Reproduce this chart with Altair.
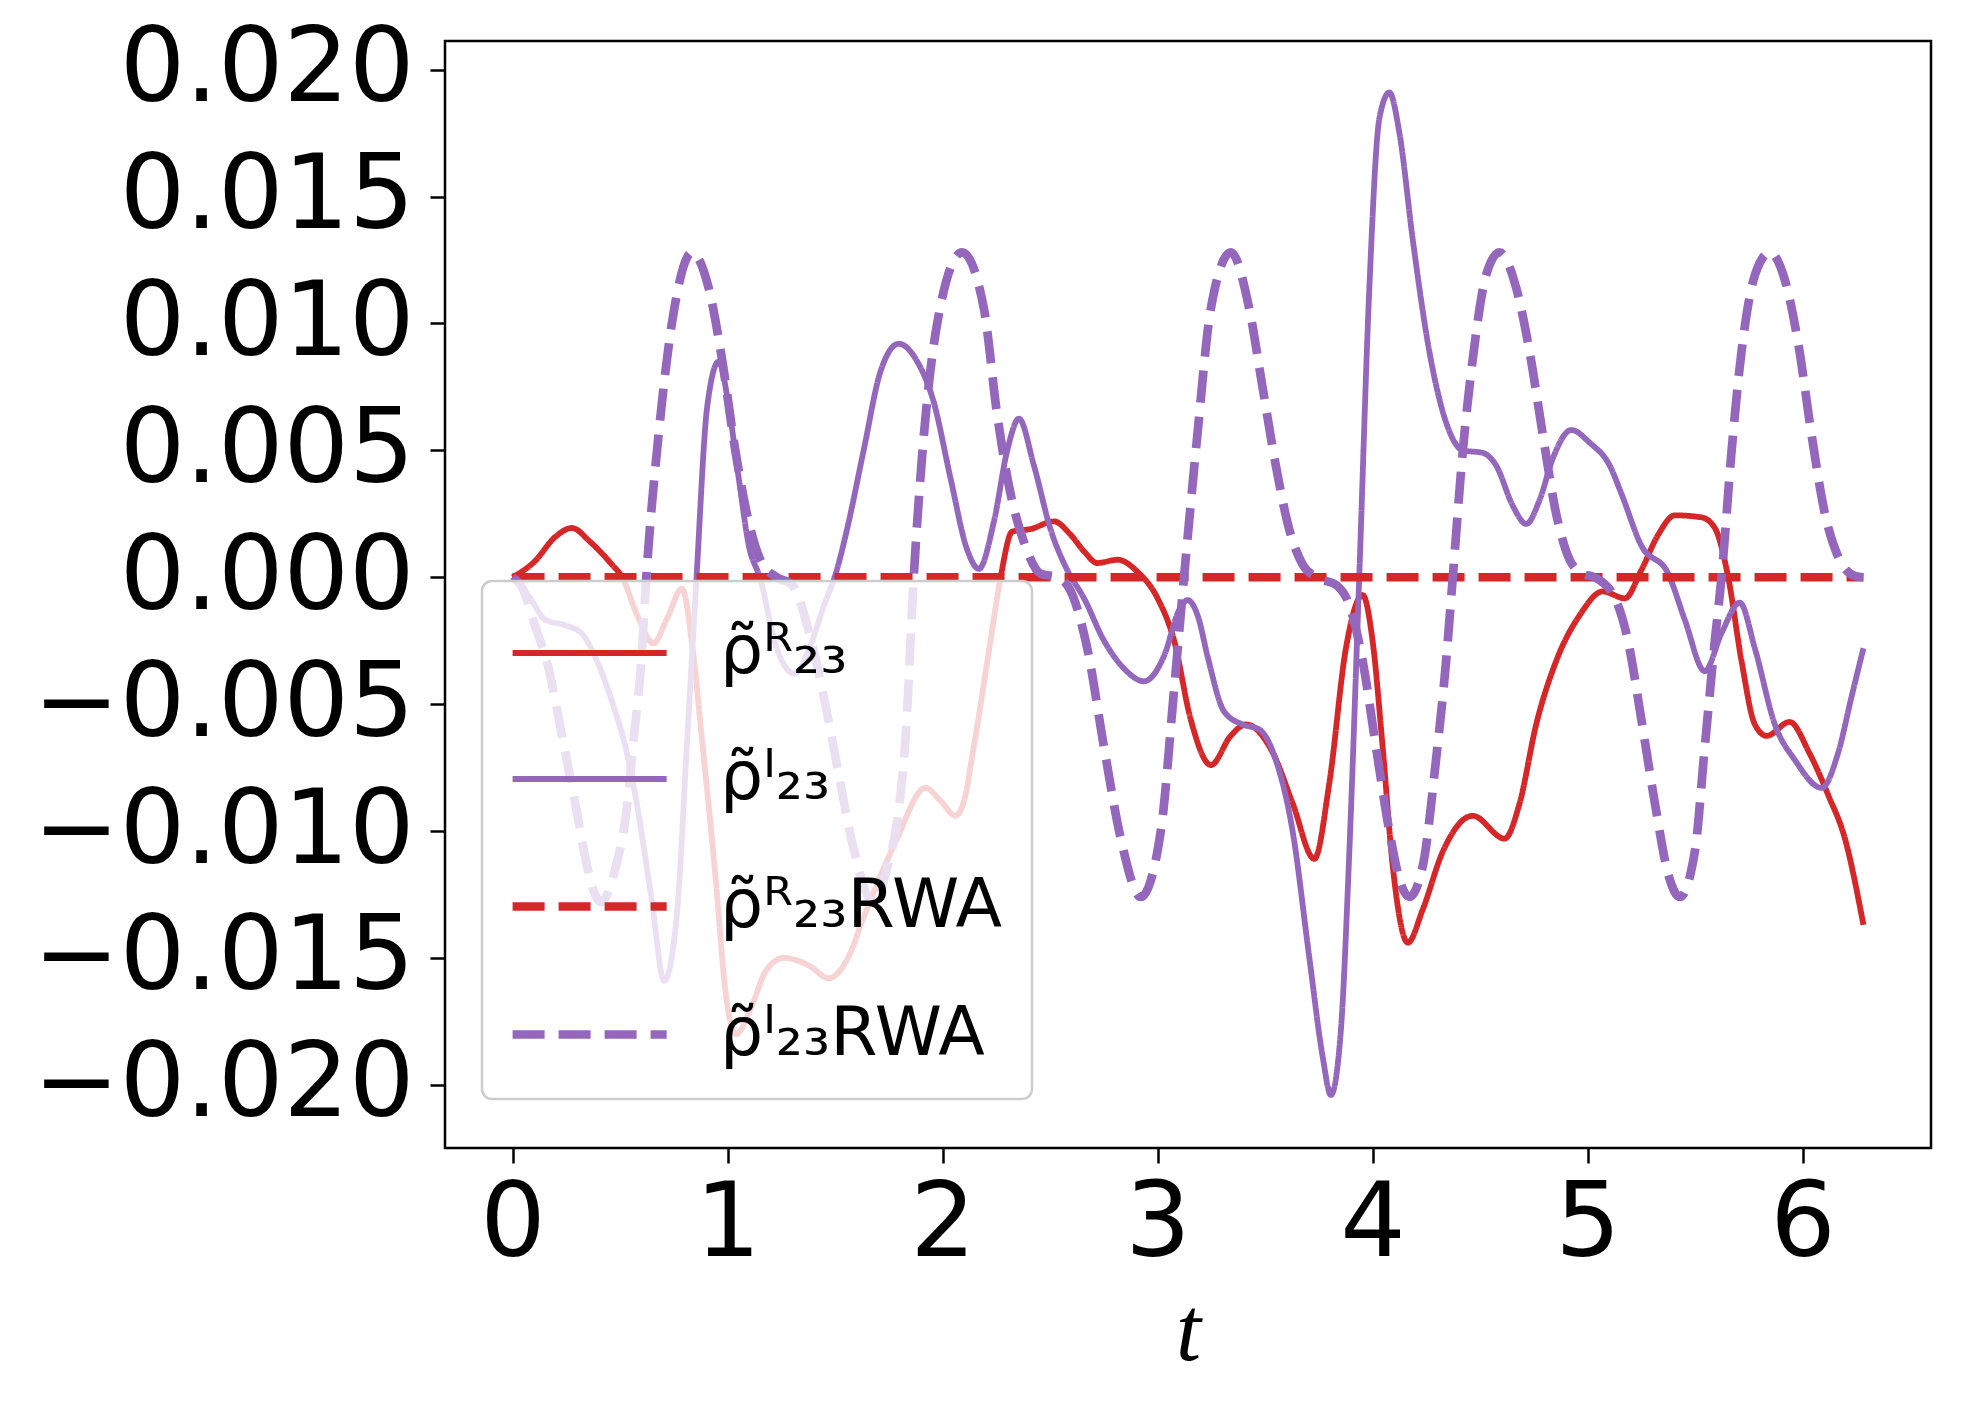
import altair as alt
import pandas as pd

# --- data (values in units of 1e-3) ---
t_re = [0.0, 0.1, 0.2, 0.276, 0.36, 0.462, 0.51, 0.58, 0.655, 0.72, 0.788, 0.84, 0.88, 0.946,
        0.99, 1.04, 1.112, 1.179, 1.262, 1.379, 1.47, 1.56, 1.633, 1.70, 1.788, 1.92, 1.99,
        2.06, 2.10, 2.145, 2.223, 2.27, 2.324, 2.41, 2.518, 2.596, 2.66, 2.72, 2.813, 2.906,
        3.0, 3.077, 3.154, 3.248, 3.34, 3.411, 3.535, 3.628, 3.729, 3.799, 3.876, 3.954, 4.0,
        4.047, 4.094, 4.164, 4.233, 4.327, 4.466, 4.614, 4.684, 4.761, 4.854, 4.963, 5.071,
        5.173, 5.25, 5.328, 5.406, 5.53, 5.592, 5.654, 5.716, 5.778, 5.833, 5.94, 6.03, 6.12,
        6.197, 6.283]
v_re = [0.0, 0.6, 1.6, 1.94, 1.4, 0.5, 0.0, -1.5, -2.6, -1.6, -0.45, -3.0, -6.3, -12.0,
        -16.3, -18.0, -16.9, -15.5, -15.0, -15.3, -15.8, -15.0, -13.4, -12.0, -10.3, -8.3, -8.8,
        -9.4, -8.8, -6.7, -2.5, 0.0, 1.8, 1.9, 2.2, 1.67, 1.0, 0.56, 0.69, 0.22,
        -0.83, -2.5, -5.6, -7.4, -6.25, -5.8, -6.9, -8.9, -11.1, -8.1, -2.8, -0.7, -2.5,
        -6.7, -11.4, -14.4, -13.1, -10.8, -9.4, -10.3, -8.9, -5.8, -3.3, -1.5, -0.56,
        -0.83, 0.28, 1.67, 2.44, 2.36, 1.94, 0.0, -3.3, -5.8, -6.25, -5.7, -6.9, -8.6,
        -10.3, -13.7]

t_im = [0.0, 0.08, 0.152, 0.248, 0.32, 0.398, 0.478, 0.514, 0.571, 0.647, 0.705, 0.763, 0.813,
        0.855, 0.905, 0.959, 1.006, 1.052, 1.10, 1.15, 1.229, 1.312, 1.38, 1.445, 1.512, 1.556,
        1.633, 1.711, 1.796, 1.882, 1.959, 2.037, 2.114, 2.169, 2.239, 2.301, 2.355, 2.425,
        2.502, 2.58, 2.658, 2.751, 2.844, 2.937, 3.03, 3.1, 3.14, 3.19, 3.232, 3.31, 3.395,
        3.473, 3.55, 3.628, 3.706, 3.768, 3.806, 3.853, 3.892, 3.938, 3.985, 4.032, 4.078,
        4.125, 4.187, 4.264, 4.342, 4.42, 4.513, 4.575, 4.653, 4.715, 4.777, 4.839, 4.924,
        5.01, 5.103, 5.157, 5.25, 5.375, 5.452, 5.545, 5.623, 5.708, 5.778, 5.871, 5.964,
        6.089, 6.166, 6.228, 6.283]
v_im = [0.0, -0.8, -1.67, -1.9, -2.2, -3.4, -5.3, -6.3, -8.6, -12.7, -15.9, -13.4, -6.3,
        -0.1, 6.7, 8.5, 6.7, 3.9, 1.2, 0.0, -2.8, -3.8, -2.8, -1.2, 0.4, 1.9,
        5.0, 8.1, 9.2, 8.5, 6.9, 3.9, 1.1, 0.33, 2.2, 5.0, 6.25, 4.4,
        1.9, 0.28, -0.83, -2.5, -3.6, -4.1, -3.1, -1.3, -0.9, -1.6, -3.1, -5.3, -5.8,
        -6.0, -7.2, -10.0, -15.0, -18.9, -20.4, -17.8, -10.8, 0.0, 11.4, 18.1, 19.1,
        17.5, 13.3, 8.9, 6.1, 5.0, 4.9, 4.4, 2.8, 2.1, 3.05, 4.7, 5.8,
        5.3, 4.4, 3.3, 1.25, 0.14, -1.67, -3.7, -2.2, -1.0, -2.8, -5.8, -7.2,
        -8.3, -6.9, -4.7, -2.8]

t_re_rwa = [0.0, 6.283]
v_re_rwa = [0.0, 0.0]

t_im_rwa = [0.0, 0.05, 0.1, 0.165, 0.231, 0.298, 0.347, 0.41, 0.48, 0.53, 0.564, 0.597, 0.622,
            0.679, 0.741, 0.835, 0.912, 0.974, 1.036, 1.098, 1.16, 1.229, 1.30, 1.38, 1.445,
            1.511, 1.578, 1.678, 1.744, 1.795, 1.828, 1.866, 1.913, 1.975, 2.091, 2.192, 2.254,
            2.316, 2.378, 2.456, 2.534, 2.596, 2.673, 2.751, 2.829, 2.922, 3.015, 3.077, 3.123,
            3.185, 3.248, 3.341, 3.426, 3.488, 3.55, 3.612, 3.675, 3.737, 3.83, 3.892, 3.954,
            4.016, 4.078, 4.132, 4.171, 4.233, 4.295, 4.342, 4.373, 4.42, 4.466, 4.528, 4.59,
            4.668, 4.73, 4.792, 4.854, 4.916, 4.978, 5.033, 5.126, 5.188, 5.25, 5.313, 5.375,
            5.429, 5.499, 5.545, 5.592, 5.623, 5.67, 5.716, 5.778, 5.848, 5.918, 5.98, 6.042,
            6.104, 6.166, 6.244, 6.283]
v_im_rwa = [0.0, -0.5, -1.8, -3.5, -6.3, -9.2, -11.4, -12.8, -11.4, -9.2, -6.3, -3.5, 0.0,
            5.6, 10.0, 12.8, 11.4, 8.6, 5.0, 2.2, 0.55, 0.0, -0.3, -2.2, -4.6,
            -7.5, -10.4, -12.8, -11.4, -9.2, -6.3, 0.0, 5.6, 10.0, 12.8, 10.6, 6.4,
            3.3, 1.4, 0.14, 0.0, -0.55, -2.8, -6.7, -10.3, -12.6, -10.0, -4.4, 0.0,
            5.6, 10.6, 12.8, 10.6, 7.5, 4.4, 1.9, 0.5, 0.0, -0.3, -1.1, -3.3,
            -6.7, -10.0, -12.1, -12.6, -11.4, -7.2, -3.3, 0.0, 5.0, 8.6, 11.9, 12.8,
            11.4, 8.9, 5.6, 2.5, 0.7, 0.14, 0.0, -0.8, -2.5, -5.6, -8.9, -11.7,
            -12.6, -10.8, -6.7, -2.5, 0.0, 5.0, 8.9, 11.9, 12.8, 11.7, 9.2, 5.6,
            2.5, 0.8, 0.05, 0.0]

names = ["ρ̃ᴿ₂₃", "ρ̃ᴵ₂₃", "ρ̃ᴿ₂₃RWA", "ρ̃ᴵ₂₃RWA"]
colors = ["#d62728", "#9467bd", "#d62728", "#9467bd"]
dashes = [[1, 0], [1, 0], [32, 14], [32, 14]]
widths = [5.8, 5.8, 8.7, 8.7]

rows = []
for name, ts, vs in zip(names, [t_re, t_im, t_re_rwa, t_im_rwa], [v_re, v_im, v_re_rwa, v_im_rwa]):
    for i, (t, v) in enumerate(zip(ts, vs)):
        rows.append({"t": t, "v": v * 1e-3, "series": name, "idx": i})
df = pd.DataFrame(rows)

legend = alt.Legend(title=None, orient="none", legendX=37, legendY=540)

chart = alt.Chart(df).mark_line(interpolate="monotone").encode(
    x=alt.X("t:Q", scale=alt.Scale(domain=[-0.3142, 6.5973], nice=False, zero=False),
            axis=alt.Axis(values=[0, 1, 2, 3, 4, 5, 6], format="d", title="t",
                          titleFont="Liberation Serif", titleFontStyle="italic",
                          titleFontWeight="normal", titleFontSize=90, titlePadding=12,
                          labelPadding=11, titleColor="black")),
    y=alt.Y("v:Q", scale=alt.Scale(domain=[-0.02249, 0.02113], nice=False, zero=False),
            axis=alt.Axis(values=[-0.02, -0.015, -0.01, -0.005, 0, 0.005, 0.01, 0.015, 0.02],
                          format=".3f", title=None, labelPadding=16)),
    color=alt.Color("series:N", scale=alt.Scale(domain=names, range=colors), legend=legend),
    strokeDash=alt.StrokeDash("series:N", scale=alt.Scale(domain=names, range=dashes), legend=legend),
    strokeWidth=alt.StrokeWidth("series:O", sort=names,
                                scale=alt.Scale(type="ordinal", domain=names, range=widths),
                                legend=legend),
    detail="series:N",
    order="idx:Q",
).properties(
    width=1486, height=1107,
    padding={"left": 437, "top": 33, "right": 22, "bottom": 252},
    autosize=alt.AutoSizeParams(type="none"),
).configure_view(
    stroke="black", strokeWidth=2.5
).configure_axis(
    domain=False, grid=False, tickColor="black", tickWidth=2.5, tickSize=15,
    labelFont="DejaVu Sans", labelFontSize=103, labelColor="black", labelLimit=1000,
).configure_legend(
    fillColor="rgba(255,255,255,0.8)", strokeColor="#cccccc", strokeWidth=2.5,
    cornerRadius=10, padding=30, labelFont="DejaVu Sans", labelFontSize=68,
    labelColor="black", labelLimit=1000, labelOffset=121, symbolType="M-1.1,0H2.85",
    symbolSize=6084, rowPadding=50,
)

chart.save("out.html", embed_options={"renderer": "svg", "actions": False})
